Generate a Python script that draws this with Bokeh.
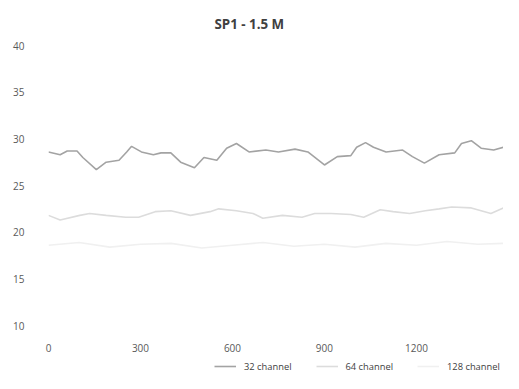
from bokeh.plotting import figure
from bokeh.layouts import column
from bokeh.models import Legend, LegendItem, FixedTicker, Range1d
from bokeh.embed import file_html
from bokeh.resources import INLINE

title_text = "SP1 - 1.5 M"

x_32 = [0, 38, 61, 93, 112, 156, 188, 230, 255, 271, 303, 342, 367, 399, 431, 476, 507, 549,
        581, 613, 654, 709, 750, 804, 846, 900, 942, 986, 1005, 1034, 1060, 1101, 1155, 1187,
        1226, 1274, 1325, 1347, 1379, 1411, 1452, 1484]
y_32 = [28.6, 28.3, 28.7, 28.7, 28.0, 26.7, 27.5, 27.7, 28.6, 29.2, 28.6, 28.3, 28.5, 28.5,
        27.5, 26.9, 28.0, 27.7, 29.0, 29.5, 28.6, 28.8, 28.6, 28.9, 28.6, 27.2, 28.1, 28.2,
        29.1, 29.6, 29.1, 28.6, 28.8, 28.1, 27.4, 28.3, 28.5, 29.5, 29.8, 29.0, 28.8, 29.1]

x_64 = [0, 38, 102, 134, 188, 252, 294, 348, 399, 463, 527, 555, 613, 667, 699, 763, 827, 868,
        922, 986, 1028, 1082, 1124, 1178, 1229, 1274, 1315, 1379, 1443, 1484]
y_64 = [21.8, 21.3, 21.8, 22.0, 21.8, 21.6, 21.6, 22.2, 22.3, 21.8, 22.2, 22.5, 22.3, 22.0,
        21.5, 21.8, 21.6, 22.0, 22.0, 21.9, 21.6, 22.4, 22.2, 22.0, 22.3, 22.5, 22.7, 22.6,
        22.0, 22.6]

x_128 = [0, 100, 200, 300, 400, 500, 600, 700, 800, 900, 1000, 1100, 1200, 1300, 1400, 1484]
y_128 = [18.6, 18.9, 18.4, 18.7, 18.8, 18.3, 18.6, 18.9, 18.5, 18.7, 18.4, 18.8, 18.6, 19.0,
         18.7, 18.8]

x_ticks = [0, 300, 600, 900, 1200]
y_ticks = [10, 15, 20, 25, 30, 35, 40]
series_names = ["32 channel", "64 channel", "128 channel"]
series_colors = ["#a3a3a3", "#dcdcdc", "#f0f0f0"]

p = figure(width=503, height=355, output_backend="svg", toolbar_location=None,
           x_range=Range1d(0, 1484), y_range=Range1d(10, 40.54),
           min_border_left=48, min_border_right=0, min_border_top=40, min_border_bottom=30,
           title=title_text)
p.title.align = "left"
p.title.offset = 166
p.title.text_font = "Open Sans"
p.title.text_font_size = "10pt"
p.title.text_font_style = "bold"
p.title.text_color = "#404040"
p.title.standoff = 16
p.outline_line_color = None
p.xgrid.visible = False
p.ygrid.visible = False

for ax in (p.xaxis[0], p.yaxis[0]):
    ax.axis_line_color = None
    ax.major_tick_line_color = None
    ax.minor_tick_line_color = None
    ax.major_label_text_font = "Open Sans"
    ax.major_label_text_font_size = "7.5pt"
    ax.major_label_text_color = "#595959"
p.xaxis.ticker = FixedTicker(ticks=x_ticks)
p.yaxis.ticker = FixedTicker(ticks=y_ticks)
p.xaxis.major_label_standoff = 12
p.yaxis.major_label_standoff = 18

p.line(x_32, y_32, line_color=series_colors[0], line_width=1.6)
p.line(x_64, y_64, line_color=series_colors[1], line_width=1.6)
p.line(x_128, y_128, line_color=series_colors[2], line_width=1.6)

# legend strip below the chart
lg = figure(width=503, height=18, output_backend="svg", toolbar_location=None,
            x_range=Range1d(0, 1), y_range=Range1d(0, 1),
            min_border_left=0, min_border_right=0, min_border_top=0, min_border_bottom=0)
lg.axis.visible = False
lg.grid.visible = False
lg.outline_line_color = None
rs = [lg.line([-5, -4], [-5, -4], line_color=c, line_width=1.6) for c in series_colors]
legend = Legend(items=[LegendItem(label=n, renderers=[r]) for n, r in zip(series_names, rs)],
                orientation="horizontal", location=(166, 0),
                label_text_font="Open Sans", label_text_font_size="7pt",
                label_text_color="#404040", border_line_color=None,
                glyph_width=22, glyph_height=14, label_height=14,
                spacing=24, padding=2, margin=0, label_standoff=8,
                background_fill_alpha=0)
lg.add_layout(legend, "center")

open("out.html", "w").write(file_html(column(p, lg, spacing=0), INLINE))
